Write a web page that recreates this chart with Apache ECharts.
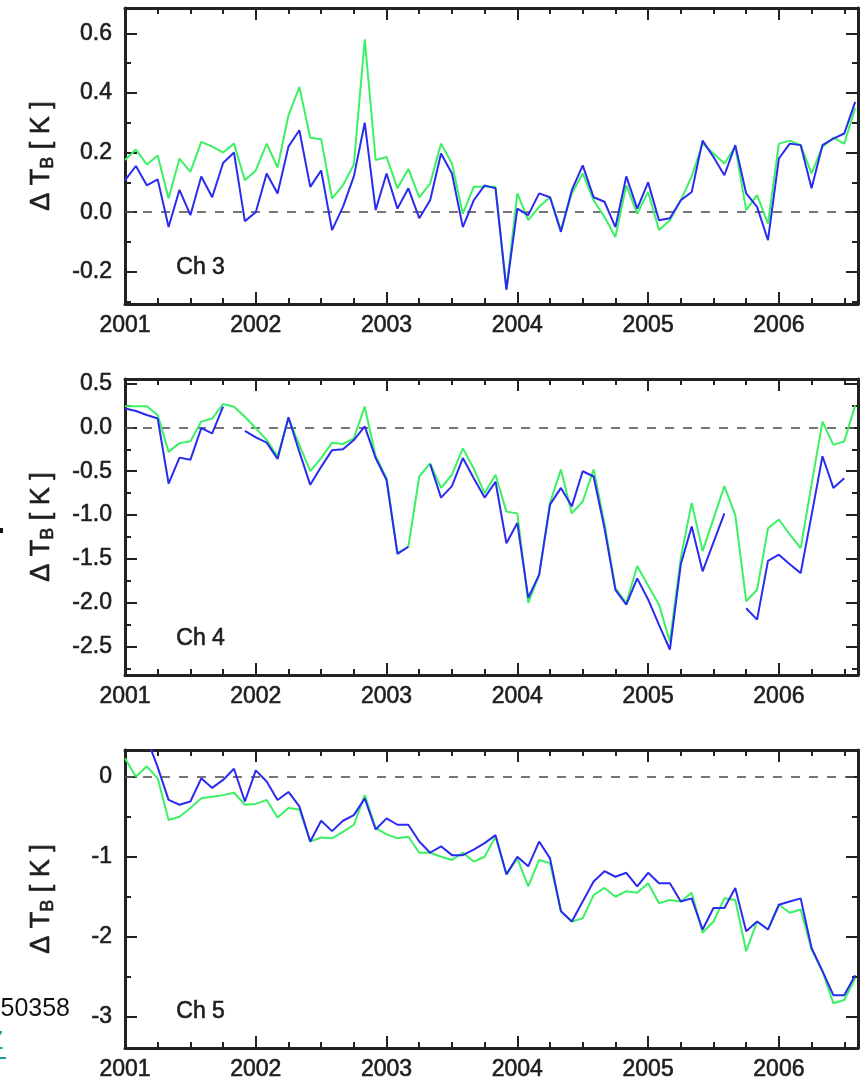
<!DOCTYPE html>
<html>
<head>
<meta charset="utf-8">
<script src="https://cdn.jsdelivr.net/npm/echarts@6/dist/echarts.min.js"></script>
<style>
html, body { margin: 0; padding: 0; background: #fff; }
#chart { width: 865px; height: 1080px; }
</style>
</head>
<body>
<div id="chart"></div>
<script>
// monthly brightness temperature anomalies, Jan 2001 .. Aug 2006
var ch3Green = [0.175, 0.21, 0.16, 0.19, 0.046, 0.18, 0.135, 0.236, 0.22, 0.2, 0.23, 0.107,
  0.14, 0.23, 0.15, 0.325, 0.42, 0.25, 0.245, 0.046, 0.09, 0.16, 0.58, 0.175,
  0.185, 0.08, 0.145, 0.05, 0.096, 0.23, 0.163, -0.005, 0.085, 0.085, 0.085, -0.26,
  0.063, -0.027, 0.018, 0.05, -0.06, 0.063, 0.13, 0.04, -0.016, -0.083, 0.09, -0.005,
  0.068, -0.06, -0.027, 0.04, 0.12, 0.23, 0.197, 0.163, 0.22, 0.007, 0.057, -0.038,
  0.23, 0.24, 0.225, 0.13, 0.22, 0.25, 0.23, 0.35];
var ch3Blue = [0.107, 0.155, 0.09, 0.11, -0.05, 0.075, -0.01, 0.12, 0.05, 0.165, 0.2, -0.03,
  0.0, 0.13, 0.063, 0.22, 0.275, 0.085, 0.14, -0.06, 0.018, 0.12, 0.30, 0.007,
  0.13, 0.012, 0.08, -0.02, 0.04, 0.197, 0.13, -0.05, 0.04, 0.09, 0.08, -0.26,
  0.012, -0.01, 0.063, 0.05, -0.066, 0.074, 0.157, 0.05, 0.035, -0.05, 0.12, 0.012,
  0.1, -0.027, -0.02, 0.04, 0.068, 0.24, 0.185, 0.124, 0.225, 0.063, 0.018, -0.094,
  0.18, 0.23, 0.225, 0.08, 0.225, 0.247, 0.264, 0.37];

var ch4Green = [0.24, 0.24, 0.24, 0.14, -0.28, -0.18, -0.16, 0.065, 0.1, 0.265, 0.235, 0.12,
  -0.01, -0.145, -0.33, 0.1, -0.2, -0.5, -0.35, -0.175, -0.19, -0.125, 0.235, -0.33,
  -0.58, -1.43, -1.36, -0.56, -0.41, -0.69, -0.54, -0.24, -0.47, -0.75, -0.54, -0.96,
  -0.98, -2.0, -1.68, -0.86, -0.48, -0.98, -0.845, -0.48, -1.1, -1.83, -2.0, -1.58,
  -1.8, -2.02, -2.44, -1.49, -0.86, -1.41, -1.04, -0.67, -1.0, -1.98, -1.85, -1.15,
  -1.05, -1.22, -1.375, -0.65, 0.065, -0.2, -0.16, 0.25];
var ch4Blue = [0.215, 0.185, 0.14, 0.1, -0.64, -0.345, -0.37, -0.01, -0.07, 0.235, '-', -0.04,
  -0.115, -0.175, -0.36, 0.115, -0.28, -0.655, -0.45, -0.26, -0.25, -0.145, 0.01, -0.35,
  -0.6, -1.44, -1.36, '-', -0.42, -0.8, -0.67, -0.35, -0.58, -0.8, -0.62, -1.32,
  -1.09, -1.94, -1.68, -0.88, -0.69, -0.9, -0.5, -0.56, -1.15, -1.85, -2.02, -1.72,
  -1.96, -2.25, -2.53, -1.56, -1.13, -1.64, -1.31, -0.98, '-', -2.06, -2.19, -1.52,
  -1.45, -1.56, -1.66, -1.0, -0.33, -0.69, -0.58, '-'];

var ch5Green = [0.23, 0.0, 0.13, -0.02, -0.54, -0.5, -0.39, -0.27, -0.25, -0.23, -0.2, -0.35,
  -0.34, -0.29, -0.51, -0.39, -0.41, -0.81, -0.76, -0.77, -0.69, -0.6, -0.23, -0.64,
  -0.72, -0.77, -0.75, -0.95, -0.95, -1.0, -1.04, -0.95, -1.06, -1.0, -0.75, -1.22,
  -1.02, -1.37, -1.04, -1.08, -1.68, -1.81, -1.77, -1.48, -1.39, -1.5, -1.43, -1.45,
  -1.33, -1.58, -1.54, -1.56, -1.45, -1.95, -1.81, -1.52, -1.54, -2.18, -1.81, -1.91,
  -1.6, -1.7, -1.66, -2.16, -2.43, -2.83, -2.79, -2.52];
var ch5Blue = ['-', '-', 0.48, 0.12, -0.29, -0.35, -0.31, -0.02, -0.14, -0.04, 0.1, -0.31,
  0.08, -0.06, -0.29, -0.19, -0.37, -0.81, -0.55, -0.68, -0.55, -0.48, -0.27, -0.66,
  -0.52, -0.6, -0.6, -0.81, -0.95, -0.87, -0.98, -0.98, -0.91, -0.83, -0.73, -1.22,
  -1.0, -1.12, -0.81, -1.02, -1.68, -1.81, -1.56, -1.31, -1.18, -1.25, -1.2, -1.37,
  -1.2, -1.33, -1.33, -1.56, -1.52, -1.91, -1.64, -1.64, -1.39, -1.93, -1.81, -1.91,
  -1.6, -1.56, -1.52, -2.14, -2.43, -2.73, -2.73, -2.48];

var years = [2001, 2002, 2003, 2004, 2005, 2006];
var ch3Ticks = [-0.2, 0.0, 0.2, 0.4, 0.6];
var ch3Minor = [-0.3, -0.1, 0.1, 0.3, 0.5];
var ch4Ticks = [-2.5, -2.0, -1.5, -1.0, -0.5, 0.0, 0.5];
var ch4Minor = [-2.75, -2.25, -1.75, -1.25, -0.75, -0.25, 0.25];
var ch5Ticks = [-3, -2, -1, 0];
var ch5Minor = [-2.5, -1.5, -0.5];

// time stamp of each monthly sample
var months = [];
for (var i = 0; i < ch3Green.length; i++) months.push(2001 + i / 12);
var quarters = [];
for (var q = 2001.25; q < 2006.6; q += 0.25) if (q % 1 !== 0) quarters.push(q);

var xMin = 2001, xMax = 2006.605;
var axisColor = '#222';
var textColor = '#1e1e1e';
var font = '"Liberation Sans", Arial, Helvetica, sans-serif';
// slight outline so the text looks as heavy as in the scanned figure
var heavy = {color: textColor, fontFamily: font, textBorderColor: textColor, textBorderWidth: 0.6};

var panels = [
  {top: 8, height: 296, min: -0.308, max: 0.685, ticks: ch3Ticks, minor: ch3Minor, dec: 1,
    green: ch3Green, blue: ch3Blue, label: 'Ch 3'},
  {top: 379, height: 296, min: -2.82, max: 0.55, ticks: ch4Ticks, minor: ch4Minor, dec: 1,
    green: ch4Green, blue: ch4Blue, label: 'Ch 4'},
  {top: 750, height: 298, min: -3.39, max: 0.334, ticks: ch5Ticks, minor: ch5Minor, dec: 0,
    green: ch5Green, blue: ch5Blue, label: 'Ch 5'}
];

function pairs(vals) {
  return months.map(function (t, i) { return [t, vals[i]]; });
}

var grids = [], xAxes = [], yAxes = [], series = [], graphics = [];

panels.forEach(function (p, gi) {
  grids.push({left: 125, width: 733, top: p.top, height: p.height, outerBoundsMode: 'none'});

  var tickStyle = {color: axisColor, width: 2};
  ['bottom', 'top'].forEach(function (pos) {
    xAxes.push({
      type: 'value', gridIndex: gi, position: pos, min: xMin, max: xMax,
      splitLine: {show: false},
      axisLine: {show: true, onZero: false, lineStyle: {color: axisColor, width: 3}},
      axisTick: {show: true, inside: true, length: 12, customValues: years, lineStyle: tickStyle},
      axisLabel: Object.assign({show: pos === 'bottom', customValues: years, margin: 10, fontSize: 23,
        formatter: function (v) { return String(Math.round(v)); }}, heavy)
    });
    xAxes.push({
      type: 'value', gridIndex: gi, position: pos, min: xMin, max: xMax,
      splitLine: {show: false},
      axisLine: {show: false, onZero: false},
      axisTick: {show: true, inside: true, length: 6, customValues: quarters, lineStyle: tickStyle},
      axisLabel: {show: false}
    });
  });

  ['left', 'right'].forEach(function (pos) {
    var major = {
      type: 'value', gridIndex: gi, position: pos, min: p.min, max: p.max,
      splitLine: {show: false},
      axisLine: {show: true, onZero: false, lineStyle: {color: axisColor, width: 3}},
      axisTick: {show: true, inside: true, length: 12, customValues: p.ticks, lineStyle: tickStyle},
      axisLabel: Object.assign({show: pos === 'left', customValues: p.ticks, margin: 13, fontSize: 23,
        formatter: (function (d) { return function (v) { return v.toFixed(d); }; })(p.dec)}, heavy)
    };
    if (pos === 'left') {
      major.name = 'Δ T{sub|B} [ K ]';
      major.nameLocation = 'middle';
      major.nameGap = 68;
      major.nameTextStyle = Object.assign({fontSize: 27, lineHeight: 30,
        rich: {sub: Object.assign({fontSize: 18, lineHeight: 16, verticalAlign: 'bottom'}, heavy)}}, heavy);
    }
    yAxes.push(major);
    yAxes.push({
      type: 'value', gridIndex: gi, position: pos, min: p.min, max: p.max,
      splitLine: {show: false},
      axisLine: {show: false, onZero: false},
      axisTick: {show: true, inside: true, length: 6, customValues: p.minor, lineStyle: tickStyle},
      axisLabel: {show: false}
    });
  });

  series.push({
    type: 'line', name: p.label + ' green', xAxisIndex: gi * 4, yAxisIndex: gi * 4,
    data: pairs(p.green), showSymbol: false, symbol: 'none', z: 3,
    lineStyle: {color: '#3cf064', width: 2},
    markLine: {silent: true, symbol: ['none', 'none'], label: {show: false}, z: 1,
      lineStyle: {color: '#555', width: 1.6, type: [9, 9]}, data: [{yAxis: 0}]}
  });
  series.push({
    type: 'line', name: p.label + ' blue', xAxisIndex: gi * 4, yAxisIndex: gi * 4,
    data: pairs(p.blue), showSymbol: false, symbol: 'none', z: 4,
    lineStyle: {color: '#2b2bf0', width: 2}
  });

  graphics.push({
    type: 'text', left: 176, top: p.top + p.height - 48,
    style: {text: p.label, fontSize: 23, fill: textColor, fontFamily: font,
      stroke: textColor, lineWidth: 0.6}
  });
});

// fragments of the surrounding page visible at the left edge
graphics.push({type: 'text', right: 795, top: 997,
  style: {text: '50358', fontSize: 25, fill: '#111', fontFamily: font}});
graphics.push({type: 'text', left: -12, top: 1030,
  style: {text: 'Z', fontSize: 25, fill: '#1a9c9c', fontFamily: font}});
graphics.push({type: 'rect', left: 0, top: 1057, shape: {width: 6, height: 2}, style: {fill: '#1a9c9c'}});
graphics.push({type: 'rect', left: 0, top: 528, shape: {width: 3, height: 5}, style: {fill: '#111'}});

var chart = echarts.init(document.getElementById('chart'), null, {renderer: 'canvas'});
chart.setOption({
  backgroundColor: '#fff',
  animation: false,
  grid: grids,
  xAxis: xAxes,
  yAxis: yAxes,
  series: series,
  graphic: graphics
});
</script>
</body>
</html>
